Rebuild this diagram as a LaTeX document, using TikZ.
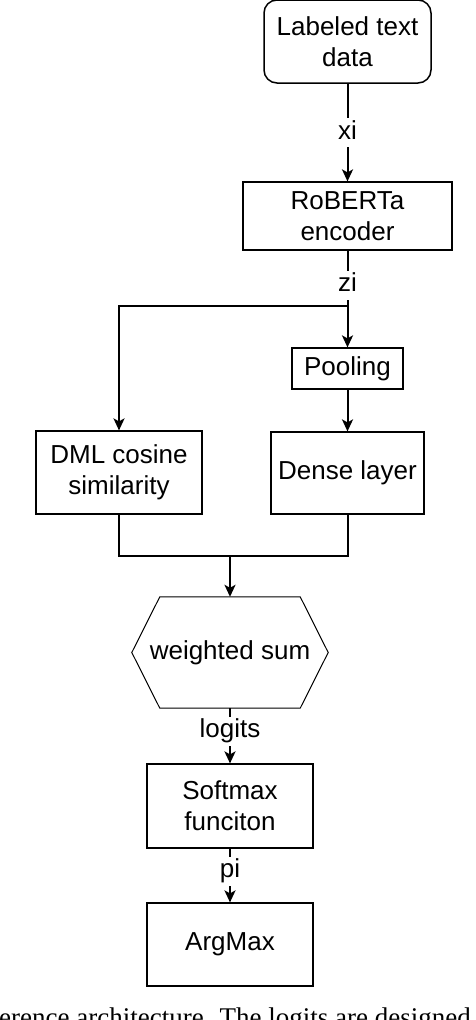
\documentclass[tikz,border=0pt]{standalone}
\usepackage{fontspec}
\setmainfont{Liberation Sans}
\newfontfamily\captionserif{Liberation Serif}
\usepackage{tikz}
\usetikzlibrary{arrows.meta, positioning, calc}

\tikzset{
  blockbox/.style={draw=black, line width=1.2pt, align=center, inner sep=0pt},
  flowline/.style={draw=black, line width=2pt},
  flowarrow/.style={flowline, -{Stealth[length=12pt, width=11pt, inset=3pt]}},
  edgelabel/.style={fill=white, inner xsep=2pt, inner ysep=3pt, text height=18pt, text depth=5pt}
}

\begin{document}
\begin{tikzpicture}[x=1pt, y=-1pt, font=\fontsize{26}{31}\selectfont]
  \useasboundingbox (0,0) rectangle (476,1020);

  \node[blockbox, rounded corners=13pt, line width=1.5pt, minimum width=167pt, minimum height=83pt] (data) at (347.5,41.5) {Labeled text\\data};
  \node[blockbox, minimum width=209pt, minimum height=68pt] (encoder) at (347.5,216) {RoBERTa\\encoder};
  \node[blockbox, minimum width=111pt, minimum height=41pt] (pooling) at (347.5,368.5) {Pooling};
  \node[blockbox, minimum width=166pt, minimum height=83pt] (dml) at (119,472.5) {DML cosine\\similarity};
  \node[blockbox, minimum width=153pt, minimum height=82pt] (dense) at (347.5,473) {Dense layer};
  \node[minimum width=196pt, minimum height=111pt, inner sep=0pt] (wsum) at (230,652.5) {weighted sum};
  \draw[line width=1pt] (wsum.west) -- ([xshift=28pt]wsum.north west) -- ([xshift=-28pt]wsum.north east)
    -- (wsum.east) -- ([xshift=-28pt]wsum.south east) -- ([xshift=28pt]wsum.south west) -- cycle;
  \node[blockbox, minimum width=166pt, minimum height=84pt] (softmax) at (230,806) {Softmax\\funciton};
  \node[blockbox, minimum width=166pt, minimum height=83pt] (argmax) at (230,944.5) {ArgMax};

  \coordinate (split) at (347.5,306);
  \coordinate (join) at (230,556);

  \draw[flowarrow] (data) -- node[edgelabel]{xi} (encoder);
  \draw[flowarrow] (encoder) -- node[edgelabel, pos=0.36]{zi} (pooling);
  \draw[flowarrow] (split) -| (dml);
  \draw[flowarrow] (pooling) -- (dense);
  \draw[flowline] (dml) |- (join) -| (dense);
  \draw[flowarrow] (join) -- (wsum);
  \draw[flowarrow] (wsum) -- node[edgelabel, pos=0.42]{logits} (softmax);
  \draw[flowarrow] (softmax) -- node[edgelabel, pos=0.42]{pi} (argmax);

  \begin{scope}
    \clip (0,0) rectangle (476,1020);
    \node[anchor=north west, inner sep=0pt, font=\captionserif\fontsize{27}{30}\selectfont] (caption) at (-1,1008) {erence architecture. The logits are designed};
  \end{scope}
\end{tikzpicture}
\end{document}
